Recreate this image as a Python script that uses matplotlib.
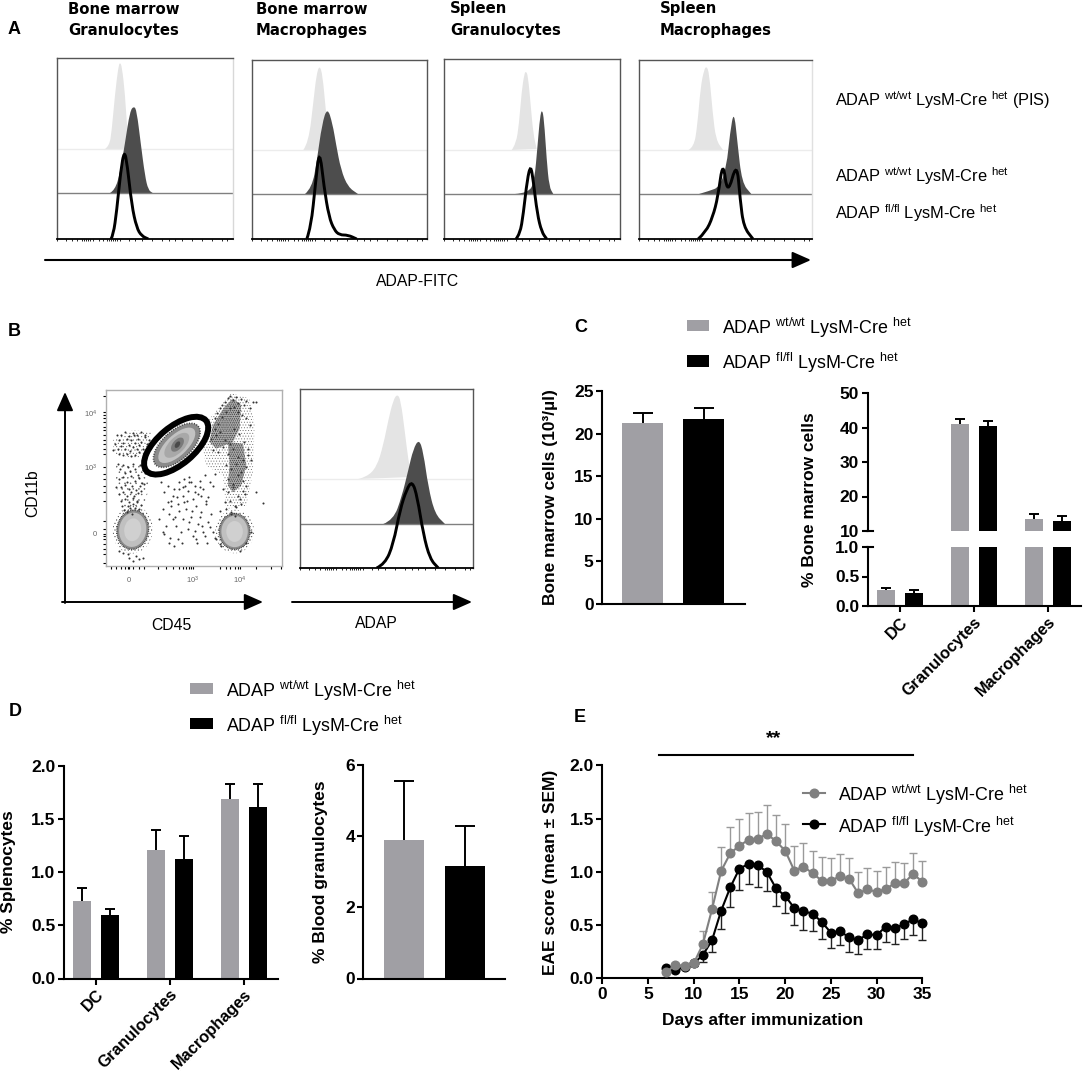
import numpy as np
import matplotlib
matplotlib.use("Agg")
import matplotlib.pyplot as plt
from matplotlib.patches import Ellipse, Rectangle, PathPatch, Polygon
from matplotlib.path import Path

plt.rcParams["font.family"] = ["Liberation Sans", "DejaVu Sans"]
plt.rcParams["mathtext.fontset"] = "custom"
plt.rcParams["mathtext.rm"] = "Liberation Sans"
plt.rcParams["mathtext.it"] = "Liberation Sans"
plt.rcParams["mathtext.bf"] = "Liberation Sans:bold"
plt.rcParams["mathtext.default"] = "regular"
plt.rcParams["hatch.linewidth"] = 0.35

W, H = 1084, 1077
GREY = "#a09fa4"
LINE_GREY = "#808080"

WT_LABEL = "ADAP $^{wt/wt}$ LysM-Cre $^{het}$"
FL_LABEL = "ADAP $^{fl/fl}$ LysM-Cre $^{het}$"
PIS_LABEL = "ADAP $^{wt/wt}$ LysM-Cre $^{het}$ (PIS)"

# panel A histograms, x and height in pixels inside each frame
BM_GRAN_PIS_X = [48, 52.3, 54.7, 58, 61.3, 63, 65, 68, 70.3, 73]
BM_GRAN_PIS_Y = [0, 3, 18, 55, 82, 87, 82, 55, 18, 0]
BM_GRAN_WT_X = [53, 58, 63, 68, 73, 77, 79.7, 83.7, 88, 91.3, 95.7]
BM_GRAN_WT_Y = [0, 3, 20, 50, 82, 87, 82, 50, 17, 3, 0]
BM_GRAN_FL_X = [54, 56.3, 59.7, 63.7, 67.3, 70.3, 74.7, 79.7, 84.7, 91.3]
BM_GRAN_FL_Y = [0, 4, 28, 68, 89, 74, 34, 11, 3, 0]

BM_MAC_PIS_X = [51.3, 56.5, 61.6, 64.4, 67.5, 70.6, 73.7, 77, 84]
BM_MAC_PIS_Y = [0, 7, 50, 75, 85, 75, 40, 13, 0]
BM_MAC_WT_X = [53, 60, 65, 70, 75.4, 80.6, 84, 89, 96, 106]
BM_MAC_WT_Y = [0, 6, 34, 70, 87, 70, 50, 24, 7, 0]
BM_MAC_FL_X = [54.8, 59, 63.4, 67.5, 72, 77, 82.3, 87.5, 96, 104.7]
BM_MAC_FL_Y = [0, 12, 55, 91, 52, 22, 9, 4, 4, 0]

SP_GRAN_PIS_X = [67.7, 72, 75, 77.7, 80.3, 82, 84, 86.7, 89.3, 92.7]
SP_GRAN_PIS_Y = [0, 6, 26, 59, 76, 79, 74, 45, 16, 1]
SP_GRAN_WT_X = [71, 84.3, 90.3, 93.7, 96, 98, 100, 102.7, 105.3, 109.3]
SP_GRAN_WT_Y = [0, 1, 12, 50, 77, 85, 75, 34, 7, 0]
SP_GRAN_FL_X = [72, 76, 79.3, 83.3, 86.7, 89.3, 93.3, 97.7, 102.7]
SP_GRAN_FL_Y = [0, 5, 25, 60, 74, 58, 25, 7, 0]

SP_MAC_PIS_X = [49.6, 54.8, 58.2, 61.6, 65, 67.5, 70.2, 73.7, 77, 84]
SP_MAC_PIS_Y = [0, 3, 23, 63, 80, 84, 77, 37, 10, 0]
SP_MAC_WT_X = [60, 70.2, 80.6, 87.5, 91, 95, 98.5, 103, 112.3]
SP_MAC_WT_Y = [0, 3, 7, 27, 61, 84, 51, 11, 0]
SP_MAC_FL_X = [59.2, 66.8, 73.7, 78.9, 84, 88.5, 97.8, 101.2, 104.7, 114]
SP_MAC_FL_Y = [0, 7, 22, 42, 79, 43, 78, 39, 12, 0]

# panel B histogram
B_PIS_X = [58.3, 66.7, 76.7, 83.3, 88.3, 93.3, 97.3, 100.7, 105, 108.3, 111.7]
B_PIS_Y = [0, 2, 12, 34, 59, 79, 85, 79, 46, 19, 2]
B_WT_X = [83.3, 93.3, 101.7, 108.3, 113.3, 119, 123.3, 128.3, 135, 145]
B_WT_Y = [0, 4, 27, 54, 75, 85, 72, 37, 10, 0]
B_FL_X = [76.7, 85, 93.3, 100, 106.7, 112.3, 117.3, 123.3, 130, 138.3]
B_FL_Y = [0, 4, 24, 58, 79, 87, 71, 34, 9, 0]

# panel B dot plot events
FLOW_X = [
    40, 48, 55, 60, 66, 72, 78, 84, 88, 92, 96, 100, 104, 108, 112, 116, 120, 126, 130, 136, 142, 148, 150,
    58, 70, 82, 94, 106, 118, 130, 52, 64, 76, 90, 102, 114, 126, 138,
    55, 62, 70, 78, 85, 92, 100, 108, 115, 122, 130, 138, 60, 72, 84, 96, 106, 118, 128, 66, 76, 88, 98, 110,
    122, 134, 58, 70, 82, 94, 104, 116, 126, 64, 78, 90, 102, 114, 50, 68, 86, 100, 112, 124, 74, 92, 106, 120, 84, 98,
    185, 195, 205, 215, 190, 210, 225, 240, 255, 270, 285, 300, 315, 330, 345, 200, 220, 235, 250, 265, 280,
    295, 310, 325, 340, 215, 230, 245, 260, 275, 290, 305, 320, 335, 235, 250, 265, 280, 295, 310, 325, 210,
    225, 240, 255, 270, 285, 300, 315, 195, 212, 228, 248, 262, 278, 292, 308, 322, 220, 240, 258, 274, 288,
    304, 318, 205, 232, 250, 268, 286, 300, 180, 190,
    345, 352, 360, 368, 376, 384, 392, 400, 408, 416, 424, 432, 440, 450, 460, 470, 345, 356, 368, 380, 392,
    404, 416, 428, 440, 452, 335, 348, 362, 376, 390, 404, 418, 432, 446, 340, 355, 370, 385, 400, 415, 430,
    445, 380, 395, 410, 425, 440, 455, 385, 400, 415, 430, 370, 385, 400, 415, 430, 375, 390, 405, 420, 435,
    380, 395, 410, 425, 360, 440, 470, 490, 395, 405,
    110, 90, 70, 120, 100, 85, 60, 130, 340, 330, 350, 365, 420, 440, 455, 360, 345,
]
FLOW_Y = [
    195, 175, 190, 165, 182, 172, 190, 160, 178, 198, 165, 185, 150, 172, 192, 160, 180, 170, 190, 155, 175, 165, 185,
    205, 210, 205, 212, 208, 200, 215, 150, 148, 140, 152, 142, 150, 140, 148,
    235, 250, 240, 262, 245, 258, 236, 250, 268, 240, 255, 262, 280, 275, 288, 272, 285, 278, 292, 305, 298, 310, 300, 312,
    302, 295, 325, 320, 332, 318, 330, 322, 315, 345, 340, 350, 338, 348, 305, 360, 362, 355, 345, 358, 372, 368, 366, 370, 380, 385,
    290, 320, 300, 345, 370, 385, 310, 290, 280, 275, 300, 285, 270, 290, 265, 420, 400, 355, 330, 315, 340,
    325, 310, 335, 300, 360, 420, 440, 370, 395, 360, 380, 355, 385, 460, 400, 430, 450, 415, 440, 410, 470,
    480, 375, 350, 410, 435, 395, 450, 445, 455, 395, 470, 345, 375, 470, 420, 470, 330, 310, 300, 290, 460,
    330, 345, 350, 335, 305, 290, 320, 305, 400, 440,
    100, 85, 70, 60, 50, 40, 32, 45, 35, 55, 42, 60, 48, 70, 52, 52, 130, 115, 95, 80, 70,
    65, 80, 90, 100, 120, 160, 150, 140, 165, 175, 130, 145, 170, 190, 195, 200, 185, 205, 190, 215, 225,
    210, 240, 250, 235, 260, 245, 225, 280, 295, 270, 285, 310, 320, 305, 330, 315, 350, 345, 360, 340, 325,
    370, 378, 365, 355, 375, 300, 320, 353, 385, 390,
    510, 515, 500, 520, 525, 505, 495, 515, 440, 425, 460, 480, 495, 470, 440, 475, 455,
]

# outlines of the dense populations in the dot plot
TOP_RIGHT_BLOB = [(340, 120), (375, 65), (400, 40), (425, 60), (420, 130), (400, 170), (350, 190), (330, 170)]
MID_RIGHT_BLOB = [(385, 170), (430, 175), (440, 240), (425, 300), (400, 320), (385, 300), (390, 240)]
RIGHT_HALO = [(330, 100), (395, 25), (450, 40), (465, 120), (460, 260), (440, 360), (380, 370), (370, 270),
              (320, 240), (310, 190)]
LEFT_CLOUD = [(40, 165), (100, 135), (155, 140), (150, 200), (110, 220), (45, 205)]
LEFT_COLUMN = [(50, 230), (140, 230), (150, 300), (130, 380), (70, 380), (50, 300)]

# panel C
BM_COUNT = [21.2, 21.75]
BM_COUNT_TOP = [22.4, 23.05]
BM_CATS = ["DC", "Granulocytes", "Macrophages"]
BM_WT = [0.27, 40.9, 13.6]
BM_WT_TOP = [0.30, 42.6, 14.9]
BM_FL = [0.226, 40.3, 13.0]
BM_FL_TOP = [0.265, 42.0, 14.4]

# panel D
SPL_WT = [0.73, 1.207, 1.693]
SPL_WT_TOP = [0.853, 1.398, 1.827]
SPL_FL = [0.60, 1.125, 1.611]
SPL_FL_TOP = [0.658, 1.338, 1.827]
BLOOD = [3.89, 3.17]
BLOOD_TOP = [5.56, 4.28]

# panel E
DAYS = list(range(7, 36))
EAE_WT = [0.056, 0.128, 0.116, 0.14, 0.32, 0.648, 1.008, 1.174, 1.246, 1.30, 1.308, 1.358, 1.286, 1.199, 1.011,
          1.049, 0.986, 0.917, 0.917, 0.958, 0.933, 0.798, 0.836, 0.811, 0.839, 0.892, 0.892, 0.983, 0.905]
EAE_WT_TOP = [0.07, 0.14, 0.13, 0.16, 0.44, 0.814, 1.236, 1.421, 1.499, 1.549, 1.559, 1.624, 1.534, 1.449, 1.243,
              1.268, 1.196, 1.142, 1.133, 1.171, 1.13, 0.995, 1.039, 1.011, 1.042, 1.095, 1.086, 1.18, 1.105]
EAE_FL = [0.094, 0.081, 0.103, 0.14, 0.219, 0.357, 0.635, 0.854, 1.03, 1.074, 1.064, 0.998, 0.845, 0.773, 0.66,
          0.629, 0.607, 0.529, 0.429, 0.441, 0.385, 0.357, 0.416, 0.404, 0.485, 0.473, 0.507, 0.554, 0.516]
EAE_FL_LOW = [0.08, 0.07, 0.09, 0.12, 0.156, 0.25, 0.466, 0.673, 0.83, 0.886, 0.854, 0.823, 0.682, 0.61, 0.50,
              0.457, 0.448, 0.372, 0.285, 0.313, 0.25, 0.225, 0.279, 0.279, 0.338, 0.322, 0.366, 0.407, 0.36]

FRAME_TICKS = [0, 9, 15, 20, 25, 27, 29, 31, 33, 36, 42, 46, 50, 52, 54, 56, 58, 60, 63, 72, 78, 85, 95, 105,
               112, 118, 125, 135, 145, 155, 165, 170]

FS = 12.5
LEG_FS = 12.9


def px_axes(x0, top, x1, bottom, **kw):
    return fig.add_axes([x0 / W, 1 - bottom / H, (x1 - x0) / W, (bottom - top) / H], **kw)


def rounded(xs, ys, base):
    # quadratic curve through the read points so the peaks are not pointy
    pts = np.column_stack([xs, np.array(ys, dtype=float) + base])
    verts = [pts[0]]
    codes = [Path.MOVETO]
    for i in range(1, len(pts) - 1):
        verts += [pts[i], (pts[i] + pts[i + 1]) / 2]
        codes += [Path.CURVE3, Path.CURVE3]
    verts.append(pts[-1])
    codes.append(Path.LINETO)
    return Path(verts, codes)


def hist_panel(x0, top, x1, bottom, pis, wt, fl, base_pis, base_wt, right="#555555"):
    ax = px_axes(x0, top, x1, bottom)
    ax.set_xlim(0, x1 - x0)
    ax.set_ylim(0, bottom - top)
    ax.add_patch(PathPatch(rounded(pis[0], pis[1], base_pis), fc="#e4e4e4", ec="none", zorder=1))
    ax.add_patch(PathPatch(rounded(wt[0], wt[1], base_wt), fc="#4d4d4d", ec="none", zorder=2))
    ax.axhline(base_pis, color="#ececec", lw=1, zorder=1)
    ax.axhline(base_wt, color="#808080", lw=1, zorder=2)
    ax.add_patch(PathPatch(rounded(fl[0], fl[1], 0), fc="none", ec="black", lw=2.1, zorder=4))
    for s in ["top", "left"]:
        ax.spines[s].set_color("#555555")
        ax.spines[s].set_linewidth(1)
    ax.spines["right"].set_color(right)
    ax.spines["right"].set_linewidth(1)
    ax.spines["bottom"].set_color("black")
    ax.spines["bottom"].set_linewidth(1.3)
    ax.set_xticks(FRAME_TICKS)
    ax.set_xticklabels([])
    ax.set_yticks([])
    ax.tick_params(axis="x", length=1.5, width=0.6, color="black")
    return ax


def style_prism(ax):
    ax.spines["top"].set_visible(False)
    ax.spines["right"].set_visible(False)
    ax.spines["left"].set_linewidth(1.5)
    ax.spines["bottom"].set_linewidth(1.5)
    ax.tick_params(length=4.5, width=1.5, labelsize=FS, pad=1.5)
    for t in ax.get_xticklabels() + ax.get_yticklabels():
        t.set_fontweight("bold")


def up_errors(ax, x, val, top, capsize):
    err = np.array(top) - np.array(val)
    eb = ax.errorbar(x, val, yerr=[np.zeros_like(err), err], fmt="none", ecolor="black",
                     elinewidth=1.4, capsize=capsize, capthick=1.4, zorder=1)
    eb[1][0].set_visible(False)


fig = plt.figure(figsize=(W / 100, H / 100), dpi=100)

# overlay in pixel coordinates for the figure labels and arrows
page = fig.add_axes([0, 0, 1, 1], zorder=10)
page.set_xlim(0, W)
page.set_ylim(H, 0)
page.axis("off")
page.patch.set_alpha(0)

# panel A
hist_panel(57, 58, 233, 239, (BM_GRAN_PIS_X, BM_GRAN_PIS_Y), (BM_GRAN_WT_X, BM_GRAN_WT_Y),
           (BM_GRAN_FL_X, BM_GRAN_FL_Y), 90, 46, right="#d8d8d8")
hist_panel(252, 60, 427, 239, (BM_MAC_PIS_X, BM_MAC_PIS_Y), (BM_MAC_WT_X, BM_MAC_WT_Y),
           (BM_MAC_FL_X, BM_MAC_FL_Y), 89, 45)
hist_panel(444, 59, 620, 239, (SP_GRAN_PIS_X, SP_GRAN_PIS_Y), (SP_GRAN_WT_X, SP_GRAN_WT_Y),
           (SP_GRAN_FL_X, SP_GRAN_FL_Y), 89, 45)
hist_panel(639, 60, 812, 239, (SP_MAC_PIS_X, SP_MAC_PIS_Y), (SP_MAC_WT_X, SP_MAC_WT_Y),
           (SP_MAC_FL_X, SP_MAC_FL_Y), 89, 45, right="#e0e0e0")

for x, title in [(68, "Bone marrow\nGranulocytes"), (256, "Bone marrow\nMacrophages"),
                 (450, "Spleen\nGranulocytes"), (660, "Spleen\nMacrophages")]:
    first, second = title.split("\n")
    page.text(x, 9, first, family="DejaVu Sans", fontweight="bold", fontsize=10.7, va="center")
    page.text(x, 30, second, family="DejaVu Sans", fontweight="bold", fontsize=10.7, va="center")

for y, label in [(100, PIS_LABEL), (176, WT_LABEL), (213, FL_LABEL)]:
    page.text(835, y, label, fontsize=11.8, va="center")

page.annotate("", xy=(811, 260), xytext=(45, 260),
              arrowprops=dict(arrowstyle="-|>,head_length=0.95,head_width=0.42", color="black", lw=1.5,
                              shrinkA=0, shrinkB=0, mutation_scale=12))
page.text(418, 282, "ADAP-FITC", fontsize=11.3, ha="center", va="center")

# panel B dot plot, in the plot's own channel units
flow = px_axes(106, 390, 282, 566)
flow.set_xlim(20, 547)
flow.set_ylim(540, 15)
for s in flow.spines.values():
    s.set_color("#b0b0b0")
    s.set_linewidth(1)
flow.set_xticks([35, 50, 65, 78, 85, 90, 100, 118, 135, 175, 200, 220, 240, 250, 260, 268, 275, 280,
                 360, 378, 392, 405, 415, 420, 470, 515, 545])
flow.set_yticks([32, 82, 90, 100, 110, 125, 135, 150, 165, 175, 190, 205, 245, 265, 280, 300, 320, 345,
                 405, 430, 445, 452, 460, 475, 490, 505, 530])
flow.set_xticklabels([])
flow.set_yticklabels([])
flow.tick_params(length=2, width=0.8, color="black")

for outline, hatch in [(RIGHT_HALO, "......"), (LEFT_CLOUD, "....."), (LEFT_COLUMN, "...")]:
    flow.add_patch(Polygon(outline, closed=True, fc="none", ec="#4a4a4a", lw=0, hatch=hatch, alpha=0.8))
for outline in [TOP_RIGHT_BLOB, MID_RIGHT_BLOB]:
    flow.add_patch(Polygon(outline, closed=True, fc="#6f6f6f", ec="none", alpha=0.6))
    flow.add_patch(Polygon(outline, closed=True, fc="none", ec="#2c2c2c", lw=0, hatch="........"))
for cx, cy, w, h, ang in [(100, 432, 92, 114, 8), (405, 437, 90, 104, 0)]:
    flow.add_patch(Ellipse((cx, cy), w * 1.3, h * 1.25, angle=ang, fc="none", ec="#444444", lw=0, hatch="....."))
    flow.add_patch(Ellipse((cx, cy), w * 1.03, h * 1.03, angle=ang, fc="#8a8a8a", ec="#2e2e2e", lw=1, ls=(0, (0.5, 0.8))))
    flow.add_patch(Ellipse((cx, cy), w * 0.88, h * 0.9, angle=ang, fc="#c0c0c0", ec="none"))
    flow.add_patch(Ellipse((cx, cy), w * 0.55, h * 0.6, angle=ang, fc="#d0d0d0", ec="none"))
flow.add_patch(Ellipse((232, 180), 172, 86, angle=-42, fc="#8a8a8a", ec="#333333", lw=1.2, ls=(0, (0.5, 1))))
flow.add_patch(Ellipse((232, 180), 140, 62, angle=-43, fc="#c2c2c2", ec="none"))
flow.add_patch(Ellipse((232, 180), 95, 46, angle=-45, fc="#a8a8a8", ec="none"))
flow.add_patch(Ellipse((234, 178), 50, 28, angle=-50, fc="#7a7a7a", ec="none"))
flow.add_patch(Ellipse((234, 178), 22, 13, angle=-55, fc="#4a4a4a", ec="none"))
flow.scatter(FLOW_X, FLOW_Y, s=2.2, color="#333333", lw=0)
flow.add_patch(Ellipse((230, 181), 233, 111, angle=-40, fc="none", ec="black", lw=4.3))

for x, y, s in [(91, 414, "$10^4$"), (91, 468, "$10^3$"), (95, 534, "0"),
                (129, 581, "0"), (193, 580, "$10^3$"), (240, 580, "$10^4$")]:
    page.text(x, y, s, fontsize=5.5, color="#666666", ha="center", va="center")

arrow = dict(arrowstyle="-|>,head_length=0.95,head_width=0.42", color="black", lw=1.4,
             shrinkA=0, shrinkB=0, mutation_scale=12)
page.annotate("", xy=(65, 392), xytext=(65, 603), arrowprops=arrow)
page.annotate("", xy=(263, 602), xytext=(62, 602), arrowprops=arrow)
page.annotate("", xy=(472, 602), xytext=(292, 602), arrowprops=arrow)
page.text(171, 626, "CD45", fontsize=11.3, ha="center", va="center")
page.text(376, 624, "ADAP", fontsize=11.3, ha="center", va="center")
page.text(33, 493, "CD11b", fontsize=11.3, rotation=90, ha="center", va="center")

hist_panel(300, 389, 473, 568, (B_PIS_X, B_PIS_Y), (B_WT_X, B_WT_Y), (B_FL_X, B_FL_Y), 89, 44)

# panel C left
ax = px_axes(602, 391, 745, 604)
ax.bar([0, 1], BM_COUNT, width=0.67, color=[GREY, "black"], zorder=2)
up_errors(ax, [0, 1], BM_COUNT, BM_COUNT_TOP, 7.5)
ax.set_xlim(-0.664, 1.68)
ax.set_ylim(0, 25)
ax.set_yticks([0, 5, 10, 15, 20, 25])
ax.set_xticks([])
style_prism(ax)

# panel C right, broken axis
low = px_axes(867.5, 547, 1081, 606)
up = px_axes(867.5, 393, 1081, 531)
gx = np.arange(3)
for a in (low, up):
    a.bar(gx - 0.189, BM_WT, width=0.245, color=GREY, zorder=2)
    a.bar(gx + 0.189, BM_FL, width=0.245, color="black", zorder=2)
    a.set_xlim((867.5 - 900) / 74, (1081 - 900) / 74)
up_errors(low, gx[:1] - 0.189, BM_WT[:1], BM_WT_TOP[:1], 3.5)
up_errors(low, gx[:1] + 0.189, BM_FL[:1], BM_FL_TOP[:1], 3.5)
up_errors(up, gx[1:] - 0.189, BM_WT[1:], BM_WT_TOP[1:], 3.5)
up_errors(up, gx[1:] + 0.189, BM_FL[1:], BM_FL_TOP[1:], 3.5)
low.set_ylim(0, 1)
up.set_ylim(10, 50)
low.set_yticks([0, 0.5, 1.0])
low.set_yticklabels(["0.0", "0.5", "1.0"])
up.set_yticks([10, 20, 30, 40, 50])
low.set_xticks(gx)
low.set_xticklabels(BM_CATS, rotation=45, ha="right", rotation_mode="anchor")
up.set_xticks([])
style_prism(low)
style_prism(up)
low.tick_params(axis="x", labelsize=11.8)
up.spines["bottom"].set_visible(False)
page.plot([867, 873], [531, 531], color="black", lw=1.5)
page.plot([867, 873], [547, 547], color="black", lw=1.5)

page.text(551, 497, "Bone marrow cells (10³/µl)", fontsize=FS, fontweight="bold", rotation=90, ha="center", va="center")
page.text(809, 500, "% Bone marrow cells", fontsize=FS, fontweight="bold", rotation=90, ha="center", va="center")

page.add_patch(Rectangle((687, 320), 22, 11, fc=GREY, ec="none"))
page.add_patch(Rectangle((687, 355), 22, 11.5, fc="black", ec="none"))
page.text(722, 328, WT_LABEL, fontsize=LEG_FS, va="center")
page.text(722, 363, FL_LABEL, fontsize=LEG_FS, va="center")

# panel D left
ax = px_axes(63.7, 766, 278, 978.5)
ax.bar(gx - 0.189, SPL_WT, width=0.245, color=GREY, zorder=2)
ax.bar(gx + 0.189, SPL_FL, width=0.245, color="black", zorder=2)
up_errors(ax, gx - 0.189, SPL_WT, SPL_WT_TOP, 3.5)
up_errors(ax, gx + 0.189, SPL_FL, SPL_FL_TOP, 3.5)
ax.set_xlim((63.7 - 96) / 74, (278 - 96) / 74)
ax.set_ylim(0, 2)
ax.set_yticks([0, 0.5, 1, 1.5, 2])
ax.set_yticklabels(["0.0", "0.5", "1.0", "1.5", "2.0"])
ax.set_xticks(gx)
ax.set_xticklabels(BM_CATS, rotation=45, ha="right", rotation_mode="anchor")
style_prism(ax)
ax.tick_params(axis="x", labelsize=11.8)

# panel D right
ax = px_axes(363.3, 765, 505, 978.5)
ax.bar([0, 1], BLOOD, width=0.67, color=[GREY, "black"], zorder=2)
up_errors(ax, [0, 1], BLOOD, BLOOD_TOP, 7)
ax.set_xlim((363.3 - 404) / 61, (505 - 404) / 61)
ax.set_ylim(0, 6)
ax.set_yticks([0, 2, 4, 6])
ax.set_xticks([])
style_prism(ax)

page.text(9, 872, "% Splenocytes", fontsize=FS, fontweight="bold", rotation=90, ha="center", va="center")
page.text(321, 872, "% Blood granulocytes", fontsize=FS, fontweight="bold", rotation=90, ha="center", va="center")
page.add_patch(Rectangle((190, 683), 23, 10.5, fc=GREY, ec="none"))
page.add_patch(Rectangle((190, 718), 23, 11, fc="black", ec="none"))
page.text(226, 691, WT_LABEL, fontsize=LEG_FS, va="center")
page.text(226, 726, FL_LABEL, fontsize=LEG_FS, va="center")

# panel E
ax = px_axes(602.3, 765.3, 922.3, 978.3)
days = np.array(DAYS)
fl_lower = np.array(EAE_FL) - np.array(EAE_FL_LOW)
wt_upper = np.array(EAE_WT_TOP) - np.array(EAE_WT)
eb = ax.errorbar(days, EAE_FL, yerr=[fl_lower, np.zeros_like(fl_lower)], fmt="none", ecolor="#222222",
                 elinewidth=1, capsize=3, capthick=1, zorder=2, clip_on=False)
eb[1][1].set_visible(False)
ax.plot(days, EAE_FL, "-o", color="black", lw=1.5, ms=6.2, zorder=3, clip_on=False)
eb = ax.errorbar(days, EAE_WT, yerr=[np.zeros_like(wt_upper), wt_upper], fmt="none", ecolor="#9a9a9a",
                 elinewidth=1, capsize=3, capthick=1, zorder=4, clip_on=False)
eb[1][0].set_visible(False)
ax.plot(days, EAE_WT, "-o", color=LINE_GREY, lw=1.5, ms=6.2, zorder=4, clip_on=False)
ax.set_xlim(0, 35)
ax.set_ylim(0, 2)
ax.set_xticks([0, 5, 10, 15, 20, 25, 30, 35])
ax.set_yticks([0, 0.5, 1, 1.5, 2])
ax.set_yticklabels(["0.0", "0.5", "1.0", "1.5", "2.0"])
style_prism(ax)

page.text(551, 872, "EAE score (mean ± SEM)", fontsize=FS, fontweight="bold", rotation=90, ha="center", va="center")
page.text(763, 1021, "Days after immunization", fontsize=FS, fontweight="bold", ha="center", va="center")
page.plot([659, 913], [755, 755], color="black", lw=1.5)
page.text(774, 739, "**", fontsize=14, fontweight="bold", ha="center", va="center")
page.plot([803, 825], [793, 793], color=LINE_GREY, lw=1.5)
page.plot([814], [793], "o", color=LINE_GREY, ms=6.2)
page.plot([803, 825], [824, 824], color="black", lw=1.5)
page.plot([814], [824], "o", color="black", ms=6.2)
page.text(838, 795, WT_LABEL, fontsize=LEG_FS, va="center")
page.text(838, 827, FL_LABEL, fontsize=LEG_FS, va="center")

for x, y, letter in [(14, 29, "A"), (14, 332, "B"), (581, 328, "C"), (15, 712, "D"), (580, 717, "E")]:
    page.text(x, y, letter, fontsize=13, fontweight="bold", ha="center", va="center")

page.set_xlim(0, W)
page.set_ylim(H, 0)
fig.savefig("out.png", dpi=100)
